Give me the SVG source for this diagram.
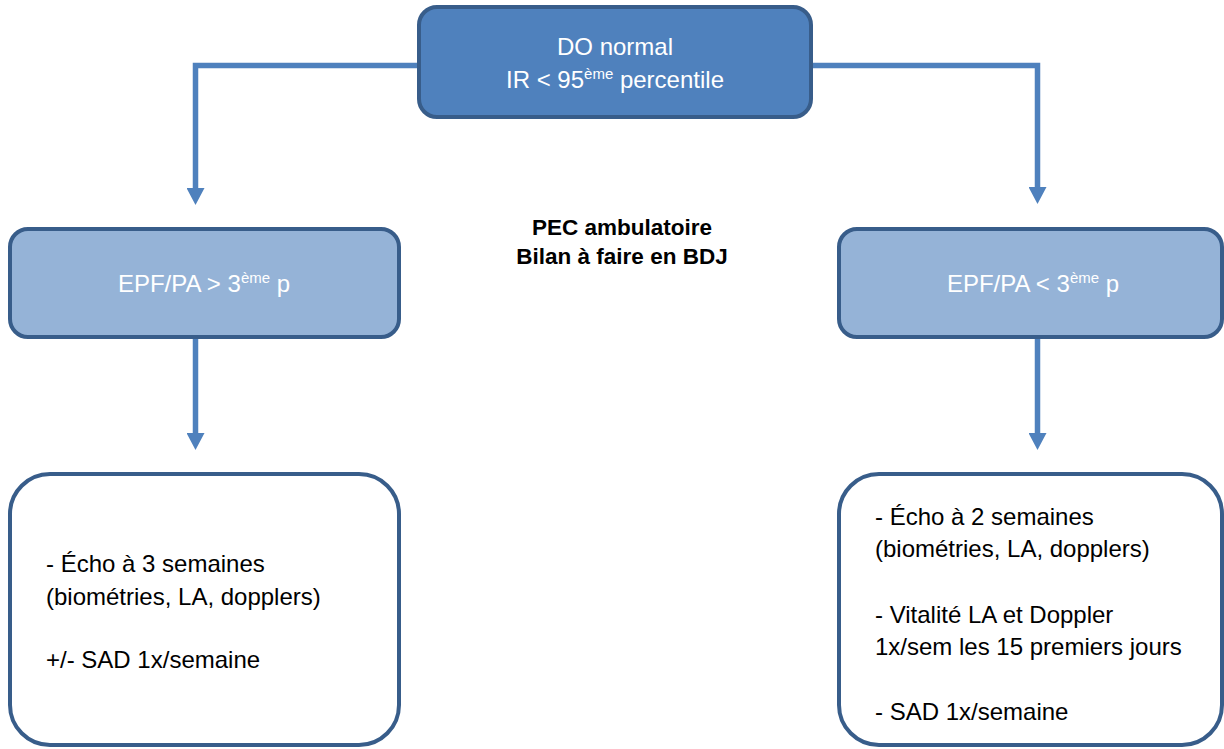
<svg xmlns="http://www.w3.org/2000/svg" width="1224" height="749" viewBox="0 0 1224 749">
  <style>
    .box { stroke: #385D8A; stroke-width: 4; }
    .top { fill: #4F81BD; }
    .mid { fill: #95B3D7; }
    .bot { fill: #FFFFFF; }
    .t { font-family: "Liberation Sans", Arial, sans-serif; font-size: 24px; }
    .w { fill: #FFFFFF; }
    .k { fill: #000000; }
    .b { font-family: "Liberation Sans", Arial, sans-serif; font-size: 22.5px; font-weight: bold; fill: #000000; }
    .sup { font-size: 15px; }
    .conn { fill: none; stroke: #4F81BD; stroke-width: 5.5; }
  </style>
  <defs>
    <marker id="ah" viewBox="0 -9 17 18" refX="0" refY="0" markerWidth="17" markerHeight="18" markerUnits="userSpaceOnUse" orient="auto">
      <path d="M0,-9 L17,0 L0,9 Z" fill="#4F81BD"/>
    </marker>
  </defs>
  <rect width="1224" height="749" fill="#FFFFFF"/>

  <g id="connectors">
    <path class="conn" d="M417,65.5 H195.5 V188" marker-end="url(#ah)"/>
    <path class="conn" d="M813,65.5 H1037.5 V187" marker-end="url(#ah)"/>
    <path class="conn" d="M195.5,339 V433" marker-end="url(#ah)"/>
    <path class="conn" d="M1037.5,339 V433" marker-end="url(#ah)"/>
  </g>

  <g id="node-top">
    <rect class="box top" x="419" y="7" width="392" height="110" rx="18"/>
    <text class="t w" x="615" y="55" text-anchor="middle">DO normal</text>
    <text class="t w" x="615" y="88" text-anchor="middle">IR &lt; 95<tspan class="sup" dy="-9">ème</tspan><tspan dy="9"> percentile</tspan></text>
  </g>

  <g id="node-mid-left">
    <rect class="box mid" x="10" y="229" width="389" height="108" rx="18"/>
    <text class="t w" x="204" y="292" text-anchor="middle">EPF/PA &gt; 3<tspan class="sup" dy="-9">ème</tspan><tspan dy="9"> p</tspan></text>
  </g>

  <g id="node-mid-right">
    <rect class="box mid" x="839" y="229" width="383" height="108" rx="18"/>
    <text class="t w" x="1033" y="292" text-anchor="middle">EPF/PA &lt; 3<tspan class="sup" dy="-9">ème</tspan><tspan dy="9"> p</tspan></text>
  </g>

  <g id="note-center">
    <text class="b" x="622" y="235" text-anchor="middle">PEC ambulatoire</text>
    <text class="b" x="622" y="264" text-anchor="middle">Bilan à faire en BDJ</text>
  </g>

  <g id="node-bottom-left">
    <rect class="box bot" x="10" y="474" width="389" height="271" rx="40"/>
    <text class="t k" x="46" y="572">- Écho à 3 semaines</text>
    <text class="t k" x="46" y="605">(biométries, LA, dopplers)</text>
    <text class="t k" x="46" y="668">+/- SAD 1x/semaine</text>
  </g>

  <g id="node-bottom-right">
    <rect class="box bot" x="839" y="474" width="383" height="271" rx="40"/>
    <text class="t k" x="875" y="525">- Écho à 2 semaines</text>
    <text class="t k" x="875" y="557">(biométries, LA, dopplers)</text>
    <text class="t k" x="875" y="623">- Vitalité LA et Doppler</text>
    <text class="t k" x="875" y="655">1x/sem les 15 premiers jours</text>
    <text class="t k" x="875" y="720">- SAD 1x/semaine</text>
  </g>
</svg>
